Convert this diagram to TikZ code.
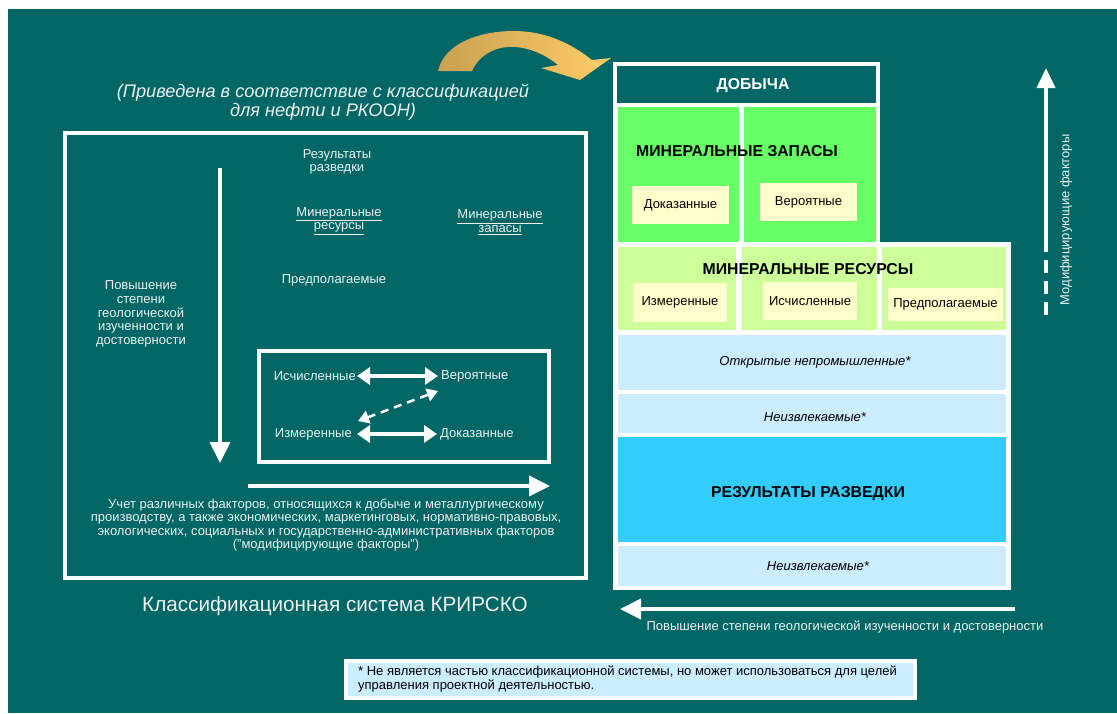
\documentclass[tikz,border=0pt]{standalone}
\usepackage{fontspec}
\setmainfont{Liberation Sans}
\usetikzlibrary{arrows.meta}
\definecolor{tealbg}{HTML}{006666}
\definecolor{zapgreen}{HTML}{66FF66}
\definecolor{resgreen}{HTML}{CCFF99}
\definecolor{lyellow}{HTML}{FFFFCC}
\definecolor{lblue}{HTML}{CCECFF}
\definecolor{cyanx}{HTML}{33CCFF}
\definecolor{goldA}{HTML}{C9A052}
\definecolor{goldB}{HTML}{FFCC66}
\definecolor{softwhite}{HTML}{F0F0F0}
\begin{document}
\begin{tikzpicture}[x=1pt,y=-1pt,
  blk/.style={anchor=north west, inner sep=0pt, outer sep=0pt},
  small/.style={font=\fontsize{13}{13.6}\selectfont, inner sep=0pt, align=center},
  ontext/.style={small, text=softwhite},
  hd/.style={font=\fontsize{15.8}{18}\selectfont\bfseries, inner sep=0pt},
  ybox/.style={fill=lyellow, small, minimum height=38pt, inner sep=0pt},
  bigarrow/.style={draw=white, line width=4pt, -{Triangle[length=21pt,width=20pt]}},
  dblarrow/.style={draw=white, line width=4pt, {Triangle[length=13pt,width=17pt]}-{Triangle[length=13pt,width=17pt]}},
  dasharrow/.style={draw=white, line width=2.5pt, dash pattern=on 8pt off 6pt, {Triangle[length=11pt,width=13pt]}-{Triangle[length=11pt,width=13pt]}}
]
\useasboundingbox (0,0) rectangle (1117,713);
\fill[white] (0,0) rectangle (1117,713);
\fill[tealbg] (8,9) rectangle (1117,713);

% gold curved arrow
\shade[left color=goldA, right color=goldB]
  (438,71) .. controls (444,44) and (478,31) .. (514,31)
  .. controls (546,31) and (572,44) .. (592,60)
  -- (611,58) -- (580,80) -- (541,68) -- (558,65)
  .. controls (542,52) and (524,46) .. (508,47)
  .. controls (492,48) and (478,57) .. (472,71) -- cycle;

% subtitle
\node[font=\fontsize{18.2}{19}\selectfont\itshape, text=softwhite, align=center, inner sep=0pt] (subtitle) at (323,102)
  {(Приведена в соответствие с классификацией\\для нефти и РКООН)};

% left big box
\node[draw=white, line width=3.5pt, minimum width=521pt, minimum height=445pt, inner sep=0pt] (leftbox) at (325.5,355.5) {};

\node[ontext] (rezr) at (337,162) {Результаты\\разведки};
\node[ontext] (minres) at (339,221) {\underline{Минеральные}\\\underline{ресурсы}};
\node[ontext] (minzap) at (500,222) {\underline{Минеральные}\\\underline{запасы}};
\node[ontext] (predp) at (334,280) {Предполагаемые};
\node[ontext] (povysh) at (141,314) {Повышение\\степени\\геологической\\изученности и\\достоверности};

\coordinate (vtop) at (220,168);
\coordinate (vbot) at (220,463);
\draw[bigarrow] (vtop) -- (vbot);

% inner box
\node[draw=white, line width=4pt, minimum width=290pt, minimum height=111pt, inner sep=0pt] (innerbox) at (404,406.5) {};
\node[ontext, anchor=east] (isch) at (356,376) {Исчисленные};
\node[ontext, anchor=west] (ver) at (441,376) {Вероятные};
\node[ontext, anchor=east] (izm) at (352,434) {Измеренные};
\node[ontext, anchor=west] (dok) at (440,434) {Доказанные};
\draw[dblarrow] ([xshift=1pt]isch.east) -- ([xshift=-3pt]ver.west);
\draw[dblarrow] ([xshift=5pt]izm.east) -- ([xshift=-3pt]dok.west);
\coordinate (dA) at (358,421);
\coordinate (dB) at (438,391);
\draw[dasharrow] (dA) -- (dB);

\coordinate (hstart) at (248,486);
\coordinate (hend) at (550,486);
\draw[bigarrow] (hstart) -- (hend);

\node[ontext] (factors) at (326,525) {Учет различных факторов, относящихся к добыче и металлургическому\\производству, а также экономических, маркетинговых, нормативно-правовых,\\экологических, социальных и государственно-административных факторов\\("модифицирующие факторы")};

\node[font=\fontsize{20.7}{22}\selectfont, text=softwhite, inner sep=0pt] (kririsco) at (335,606) {Классификационная система КРИРСКО};

% right panel frames
\node[blk, fill=white, minimum width=267pt, minimum height=182pt] (topframe) at (613,62) {};
\node[blk, fill=white, minimum width=398pt, minimum height=348pt] (botframe) at (613,242) {};
\node[blk, fill=tealbg, minimum width=259pt, minimum height=37pt] (dobbox) at (617,66) {};
\node[hd, text=white] (dobycha) at (753,86) {ДОБЫЧА};

\node[blk, fill=zapgreen, minimum width=121pt, minimum height=135pt] (zapL) at (618,107) {};
\node[blk, fill=zapgreen, minimum width=132pt, minimum height=135pt] (zapR) at (744,107) {};
\node[hd] (zaphd) at (737,151) {МИНЕРАЛЬНЫЕ ЗАПАСЫ};
\node[ybox, minimum width=97pt] (dokbox) at (680.5,205) {Доказанные};
\node[ybox, minimum width=97pt] (verbox) at (808.5,202) {Вероятные};

\node[blk, fill=resgreen, minimum width=118pt, minimum height=83pt] (resL) at (618,247) {};
\node[blk, fill=resgreen, minimum width=135pt, minimum height=83pt] (resM) at (742,247) {};
\node[blk, fill=resgreen, minimum width=124pt, minimum height=83pt] (resR) at (882,247) {};
\node[hd] (reshd) at (808,269) {МИНЕРАЛЬНЫЕ РЕСУРСЫ};
\node[ybox, minimum width=94pt, minimum height=39pt] (izmbox) at (680,302) {Измеренные};
\node[ybox, minimum width=94pt] (ischbox) at (810,301) {Исчисленные};
\node[ybox, minimum width=115pt, minimum height=33pt] (predbox) at (945.5,304.5) {Предполагаемые};

\node[blk, fill=lblue, minimum width=388pt, minimum height=55pt] (openrow) at (618,335) {};
\node[small, font=\fontsize{13}{13.6}\selectfont\itshape] (opentxt) at (815,362) {Открытые непромышленные*};
\node[blk, fill=lblue, minimum width=388pt, minimum height=39pt] (unrec1) at (618,394) {};
\node[small, font=\fontsize{13}{13.6}\selectfont\itshape] (unrec1txt) at (815,417) {Неизвлекаемые*};
\node[blk, fill=cyanx, minimum width=388pt, minimum height=105pt] (explrow) at (618,437) {};
\node[hd] (explhd) at (808,494) {РЕЗУЛЬТАТЫ РАЗВЕДКИ};
\node[blk, fill=lblue, minimum width=388pt, minimum height=40pt] (unrec2) at (618,546) {};
\node[small, font=\fontsize{13}{13.6}\selectfont\itshape] (unrec2txt) at (818,566) {Неизвлекаемые*};

% bottom left-pointing arrow
\coordinate (lstart) at (1015,609);
\coordinate (lend) at (620,609);
\draw[bigarrow] (lstart) -- (lend);
\node[ontext] (povysh2) at (845,627) {Повышение степени геологической изученности и достоверности};

% right vertical arrow
\coordinate (rtop) at (1046,68);
\coordinate (rmid) at (1046,245);
\coordinate (rbot) at (1046,315);
\draw[draw=white, line width=4pt, -{Triangle[length=20pt,width=18pt]}] (rmid) -- (rtop);
\draw[draw=white, line width=4pt, dash pattern=on 13pt off 8pt] (rbot) -- (rmid);
\node[ontext, rotate=90] (modf) at (1066,220) {Модифицирующие факторы};

% footnote
\node[blk, fill=lblue, draw=white, line width=4pt, minimum width=569pt, minimum height=37pt] (footbox) at (346,661) {};
\node[small, align=left, anchor=west, font=\fontsize{13}{14.5}\selectfont] (foottxt) at (358,679) {* Не является частью классификационной системы, но может использоваться для целей\\управления проектной деятельностью.};
\end{tikzpicture}
\end{document}
